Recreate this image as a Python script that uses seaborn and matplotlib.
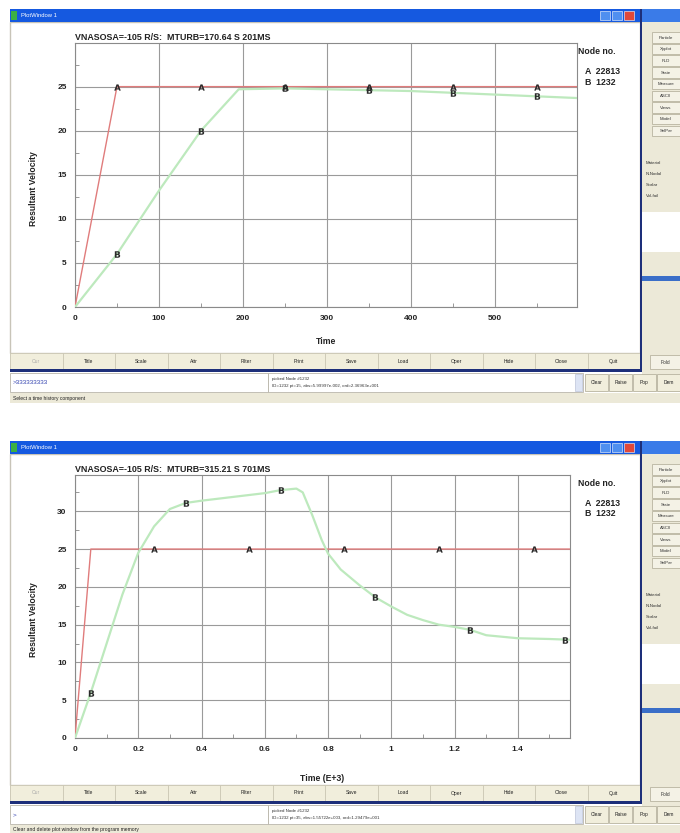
import numpy as np
import pandas as pd
import matplotlib.pyplot as plt
import seaborn as sns
from matplotlib.patches import Rectangle

sns.set_theme(style="white")
plt.rcParams['font.family'] = ['Liberation Sans', 'DejaVu Sans']

top_title = "VNASOSA=-105 R/S:  MTURB=170.64 S 201MS"
top_a_time = [0, 50, 600]
top_a_vel = [0, 25, 25]
top_b_time = [0, 50, 100, 150, 195, 250, 300, 350, 400, 450, 500, 550, 600]
top_b_vel = [0.0, 6.0, 13.2, 20.0, 24.7, 24.8, 24.7, 24.6, 24.5, 24.3, 24.1, 23.9, 23.7]
top_mark_a_time = [50, 150, 250, 350, 450, 550]
top_mark_a_vel = [25, 25, 25, 25, 25, 25]
top_mark_b_time = [50, 150, 250, 350, 450, 550]
top_mark_b_vel = [6.0, 20.0, 24.8, 24.6, 24.3, 23.9]
top_xticks = [0, 100, 200, 300, 400, 500]
top_yticks = [0, 5, 10, 15, 20, 25]

bot_title = "VNASOSA=-105 R/S:  MTURB=315.21 S 701MS"
bot_a_time = [0, 0.05, 1.565]
bot_a_vel = [0, 25, 25]
bot_b_time = [0, 0.05, 0.1, 0.15, 0.2, 0.25, 0.3, 0.35, 0.4, 0.5, 0.6, 0.65, 0.7, 0.72,
              0.75, 0.78, 0.8, 0.84, 0.9, 0.95, 1.0, 1.05, 1.1, 1.15, 1.2, 1.25, 1.3, 1.4, 1.5, 1.565]
bot_b_vel = [0.0, 6.0, 12.5, 19.0, 24.5, 28.0, 30.3, 31.1, 31.4, 31.9, 32.4, 32.8, 33.0, 32.5,
             29.5, 26.2, 24.4, 22.3, 20.2, 18.6, 17.4, 16.3, 15.6, 15.0, 14.7, 14.3, 13.6, 13.2, 13.1, 13.0]
bot_mark_a_time = [0.25, 0.55, 0.85, 1.15, 1.45]
bot_mark_a_vel = [25, 25, 25, 25, 25]
bot_mark_b_time = [0.05, 0.35, 0.65, 0.95, 1.25, 1.55]
bot_mark_b_vel = [6.0, 31.1, 32.8, 18.6, 14.3, 13.0]
bot_xticks = [0, 0.2, 0.4, 0.6, 0.8, 1.0, 1.2, 1.4]
bot_xlabels = ["0", "0.2", "0.4", "0.6", "0.8", "1", "1.2", "1.4"]
bot_yticks = [0, 5, 10, 15, 20, 25, 30]

node_a = "22813"
node_b = "1232"
buttons = ["Cur", "Title", "Scale", "Attr", "Filter", "Print", "Save", "Load", "Oper", "Hide", "Close", "Quit"]
side_buttons = ["Particle", "Xyplot", "FLD", "State", "Measure", "ASCII", "Views", "Model", "SelPar"]

W, H = 680, 833
fig = plt.figure(figsize=(6.8, 8.33), dpi=100)
fig.patch.set_facecolor("white")

bg = fig.add_axes([0, 0, 1, 1])
bg.set_xlim(0, W)
bg.set_ylim(H, 0)
bg.axis("off")

BEIGE = "#ece9d8"
BLUE = "#1559e0"
DARK = "#1d2f7a"


def rect(x0, y0, x1, y1, fc, ec="none", lw=0.6, z=1):
    bg.add_patch(Rectangle((x0, y0), x1 - x0, y1 - y0, facecolor=fc, edgecolor=ec, linewidth=lw, zorder=z))


def window_chrome(dy, prompt, picked, status):
    # right side panel (other window)
    rect(642, 9 + dy, 680, 392 + dy, BEIGE)
    rect(642, 9 + dy, 680, 22 + dy, "#3a7be8", z=2)
    for i, lab in enumerate(side_buttons):
        y = 32 + dy + i * 11.7
        rect(652, y, 680, y + 10.5, "#f4f2e6", ec="#b8b4a0", z=2)
        bg.text(666, y + 5.5, lab, fontsize=3.2, ha="center", va="center", color="#333", zorder=3)
    for j, lab in enumerate(["Material", "N-Nodal", "Scalar", "Vol-fail"]):
        bg.text(646, 163 + dy + j * 11, lab, fontsize=3.2, va="center", color="#333", zorder=3)
    rect(642, 212 + dy, 680, 252 + dy, "white", z=2)
    rect(642, 276 + dy, 680, 281 + dy, "#3a6ec8", z=2)
    rect(650, 355 + dy, 680, 369 + dy, "#f4f2e6", ec="#b8b4a0", z=2)
    bg.text(665, 362 + dy, "Fold", fontsize=3.5, ha="center", va="center", color="#333", zorder=3)

    # plot window
    rect(10, 22 + dy, 640, 353 + dy, "white", ec="#c8c4b8", lw=1.0)
    rect(10, 9 + dy, 640, 22 + dy, BLUE, z=2)
    rect(11, 11 + dy, 17, 20 + dy, "#3cb043", z=3)
    bg.text(21, 15.5 + dy, "PlotWindow 1", fontsize=4.2, color="white", va="center", zorder=3)
    for k, c in enumerate(["#4f8ff0", "#4f8ff0", "#e0483a"]):
        rect(600 + k * 12, 11 + dy, 610 + k * 12, 20 + dy, c, ec="white", lw=0.4, z=3)

    # button bar
    rect(10, 353 + dy, 640, 369 + dy, BEIGE, ec="#c8c4b8")
    bw = 630 / len(buttons)
    for i, lab in enumerate(buttons):
        x = 10 + i * bw
        rect(x, 353 + dy, x + bw, 369 + dy, "#f1eedc", ec="#c8c4b0", lw=0.5, z=2)
        bg.text(x + bw / 2, 361 + dy, lab, fontsize=3.6, ha="center", va="center",
                color="#aaa" if i == 0 else "#222", zorder=3)
    rect(10, 369 + dy, 642, 372 + dy, DARK, z=4)
    rect(639.5, 9 + dy, 642, 372 + dy, DARK, z=4)

    # command / message row
    rect(10, 373 + dy, 268, 392 + dy, "white", ec="#b8b4a8")
    bg.text(13, 382.5 + dy, prompt, fontsize=4.6, va="center", color="#3444b0", zorder=3)
    rect(268, 373 + dy, 583, 392 + dy, "white", ec="#b8b4a8")
    bg.text(272, 379 + dy, "picked Node #1232", fontsize=3.2, va="center", color="#333", zorder=3)
    bg.text(272, 386 + dy, picked, fontsize=3.2, va="center", color="#333", zorder=3)
    rect(575, 374 + dy, 582, 391 + dy, "#dde4f4", ec="#b0b8d0", lw=0.4, z=2)
    for i, lab in enumerate(["Clear", "Raise", "Pop", "Dem"]):
        x = 585 + i * 24
        rect(x, 374 + dy, x + 23, 391 + dy, "#f1eedc", ec="#b8b4a0", z=2)
        bg.text(x + 11.5, 382.5 + dy, lab, fontsize=3.5, ha="center", va="center", color="#222", zorder=3)

    # status line
    rect(10, 393 + dy, 680, 403 + dy, BEIGE)
    bg.text(13, 398 + dy, status, fontsize=3.6, va="center", color="#222", zorder=3)


window_chrome(0, ">333333333", "ID=1232 pt=15, abs=5.99997e-002, ord=2.36963e+001",
              "Select a time history component")
window_chrome(432, ">", "ID=1232 pt=35, abs=1.55722e+003, ord=1.29479e+001",
              "Clear and delete plot window from the program memory")


def make_plot(box, title, a_t, a_v, b_t, b_v, ma_t, ma_v, mb_t, mb_v,
              xlim, ylim, xticks, xlabels, yticks, xminor, yminor, xlabel, xlab_y, legend_y):
    x0, y0, x1, y1 = box
    ax = fig.add_axes([x0 / W, 1 - y1 / H, (x1 - x0) / W, (y1 - y0) / H])
    ax.set_facecolor("white")
    sns.lineplot(x=a_t, y=a_v, ax=ax, color="#e07c7c", linewidth=1.0, sort=False, zorder=3)
    sns.lineplot(x=b_t, y=b_v, ax=ax, color="#bde9bd", linewidth=1.6, sort=False, zorder=3)
    sns.scatterplot(x=ma_t, y=ma_v, ax=ax, marker=r"$\mathbf{A}$", s=22, color="#2a2a2a",
                    linewidth=0, zorder=5)
    sns.scatterplot(x=mb_t, y=mb_v, ax=ax, marker=r"$\mathbf{B}$", s=22, color="#2a2a2a",
                    linewidth=0, zorder=5)
    ax.set_xlim(*xlim)
    ax.set_ylim(*ylim)
    ax.set_xticks(xticks)
    ax.set_xticklabels(xlabels, fontsize=6, fontweight="bold", color="#222")
    ax.set_yticks(yticks)
    ax.set_yticklabels([str(v) for v in yticks], fontsize=6, fontweight="bold", color="#222")
    ax.set_xticks(xminor, minor=True)
    ax.set_yticks(yminor, minor=True)
    ax.tick_params(which="major", length=0, pad=6)
    ax.tick_params(which="minor", direction="in", length=3, color="#888", width=0.6,
                   bottom=True, left=True)
    ax.grid(True, which="major", color="#9a9a9a", linewidth=0.8)
    for s in ax.spines.values():
        s.set_color("#8a8a8a")
        s.set_linewidth(0.8)
    ax.set_xlabel(xlabel, fontsize=6.2, fontweight="bold", color="#222")
    ax.set_ylabel("Resultant Velocity", fontsize=6.2, fontweight="bold", color="#222")
    ax.yaxis.set_label_coords((38 - x0) / (x1 - x0), 0.45)
    ax.xaxis.set_label_coords(0.5, -(xlab_y - y1) / (y1 - y0))
    bg.text(x0, y0 - 6, title, fontsize=6.4, fontweight="bold", color="#222", va="center", zorder=3)
    bg.text(578, legend_y, "Node no.", fontsize=6.3, fontweight="bold", color="#222", va="center", zorder=3)
    bg.text(585, legend_y + 20, "A  " + node_a, fontsize=6.3, fontweight="bold", color="#222", va="center", zorder=3)
    bg.text(585, legend_y + 31, "B  " + node_b, fontsize=6.3, fontweight="bold", color="#222", va="center", zorder=3)
    return ax


make_plot((75, 43, 577, 307), top_title, top_a_time, top_a_vel, top_b_time, top_b_vel,
          top_mark_a_time, top_mark_a_vel, top_mark_b_time, top_mark_b_vel,
          (0, 598), (0, 29.95), top_xticks, [str(v) for v in top_xticks], top_yticks,
          [50, 150, 250, 350, 450, 550], [2.5, 7.5, 12.5, 17.5, 22.5, 27.5],
          "Time", 337, 51)

make_plot((75, 475, 570, 738), bot_title, bot_a_time, bot_a_vel, bot_b_time, bot_b_vel,
          bot_mark_a_time, bot_mark_a_vel, bot_mark_b_time, bot_mark_b_vel,
          (0, 1.565), (0, 34.8), bot_xticks, bot_xlabels, bot_yticks,
          [0.1, 0.3, 0.5, 0.7, 0.9, 1.1, 1.3, 1.5], [2.5, 7.5, 12.5, 17.5, 22.5, 27.5, 32.5],
          "Time (E+3)", 774, 483)

fig.savefig("out.png", dpi=100)
